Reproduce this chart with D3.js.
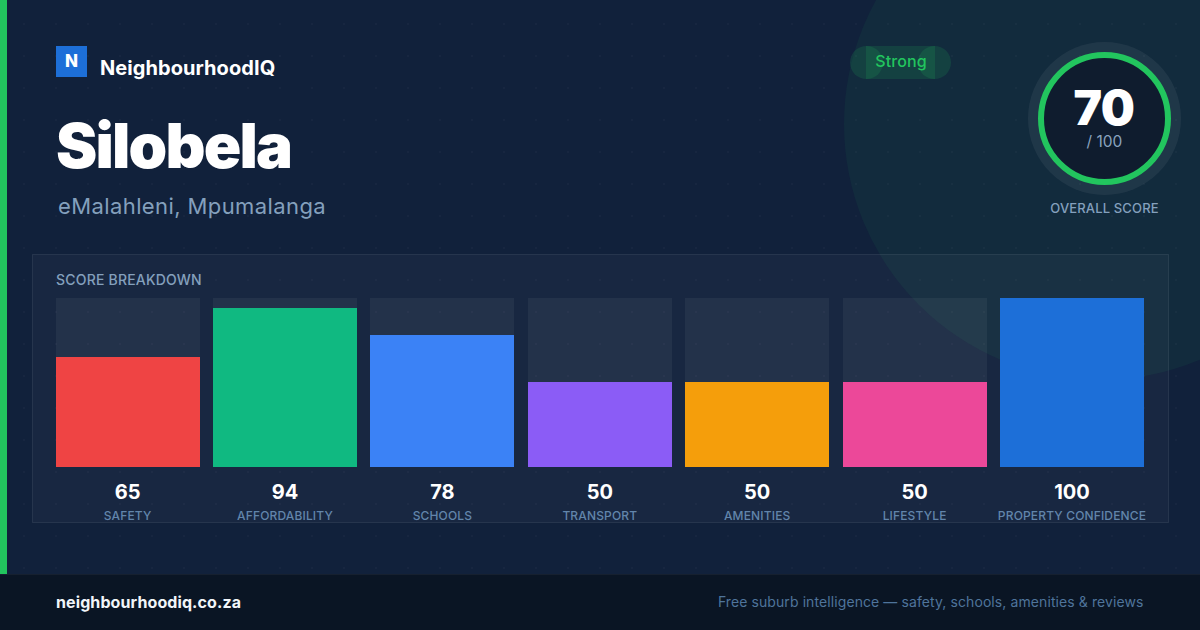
<!DOCTYPE html>
<html>
<head>
<meta charset="utf-8">
<script src="https://cdn.jsdelivr.net/npm/d3@7"></script>
<style>
  html, body { margin: 0; padding: 0; background: #0f2038; }
  svg { display: block; }
  text { font-family: Inter, "Noto Sans", sans-serif; }
</style>
</head>
<body>
<svg id="card"></svg>
<script>
const categories = ['SAFETY', 'AFFORDABILITY', 'SCHOOLS', 'TRANSPORT', 'AMENITIES', 'LIFESTYLE', 'PROPERTY CONFIDENCE'];
const scores = [65, 94, 78, 50, 50, 50, 100];
const barColors = ['#ef4444', '#10b981', '#3b82f6', '#8b5cf6', '#f59e0b', '#ec4899', '#1d6fd8'];
const overallScore = 70;
const scoreMax = 100;

const width = 1200, height = 630;
const svg = d3.select('#card').attr('width', width).attr('height', height);

// Background and dot pattern
const defs = svg.append('defs');
const pattern = defs.append('pattern')
    .attr('id', 'dots')
    .attr('width', 32).attr('height', 32)
    .attr('patternUnits', 'userSpaceOnUse');
pattern.append('circle')
    .attr('cx', 24).attr('cy', 24).attr('r', 1)
    .attr('fill', '#ffffff').attr('fill-opacity', 0.03);

svg.append('rect').attr('width', width).attr('height', height).attr('fill', '#11213b');

// Big green glow circle in the top right
svg.append('circle')
    .attr('cx', 1100).attr('cy', 124).attr('r', 256)
    .attr('fill', '#22c55e').attr('fill-opacity', 0.06);

svg.append('rect').attr('width', width).attr('height', height).attr('fill', 'url(#dots)');

// Left accent stripe
svg.append('rect').attr('width', 7).attr('height', 574).attr('fill', '#22c55e');

// Brand
svg.append('rect')
    .attr('x', 56).attr('y', 46).attr('width', 31).attr('height', 31)
    .attr('fill', '#1d6fd8');
svg.append('text')
    .attr('x', 71.5).attr('y', 67)
    .attr('text-anchor', 'middle')
    .attr('font-size', 17).attr('font-weight', 800).attr('fill', '#fff')
    .text('N');
svg.append('text')
    .attr('x', 100).attr('y', 75)
    .attr('font-size', 20).attr('font-weight', 700).attr('letter-spacing', 0.07).attr('fill', '#fff')
    .text('NeighbourhoodIQ');

// Suburb title
svg.append('text')
    .attr('x', 56).attr('y', 168)
    .attr('font-size', 62).attr('font-weight', 900)
    .attr('letter-spacing', -1.8).attr('fill', '#fff')
    .text('Silobela');
svg.append('text')
    .attr('x', 58).attr('y', 214)
    .attr('font-size', 22).attr('letter-spacing', 0.4).attr('fill', '#84a0bd')
    .text('eMalahleni, Mpumalanga');

// Strong badge: pill with overlapping end caps
const badge = svg.append('g').attr('fill', '#22c55e').attr('fill-opacity', 0.15);
badge.append('rect').attr('x', 866).attr('y', 46).attr('width', 69).attr('height', 33);
badge.append('circle').attr('cx', 866.5).attr('cy', 62.5).attr('r', 16.5);
badge.append('circle').attr('cx', 934.5).attr('cy', 62.5).attr('r', 16.5);
svg.append('text')
    .attr('x', 901).attr('y', 67)
    .attr('text-anchor', 'middle')
    .attr('font-size', 16).attr('font-weight', 500).attr('letter-spacing', 0.1).attr('fill', '#22c55e')
    .text('Strong');

// Overall score ring
svg.append('circle')
    .attr('cx', 1104.5).attr('cy', 118.5).attr('r', 76.5)
    .attr('fill', '#ffffff').attr('fill-opacity', 0.06);
svg.append('circle')
    .attr('cx', 1104.5).attr('cy', 118.5).attr('r', 63.5)
    .attr('fill', '#0f1c2e')
    .attr('stroke', '#22c55e').attr('stroke-width', 6);
svg.append('text')
    .attr('x', 1104).attr('y', 125)
    .attr('text-anchor', 'middle')
    .attr('font-size', 48).attr('font-weight', 900).attr('letter-spacing', -0.5).attr('fill', '#fff')
    .text(overallScore);
svg.append('text')
    .attr('x', 1104.5).attr('y', 147)
    .attr('text-anchor', 'middle')
    .attr('font-size', 15.5).attr('fill', '#8aa3bf')
    .text('/ ' + scoreMax);
svg.append('text')
    .attr('x', 1104.5).attr('y', 213)
    .attr('text-anchor', 'middle')
    .attr('font-size', 13).attr('font-weight', 500).attr('letter-spacing', 0.15)
    .attr('fill', '#84a0bd')
    .text('OVERALL SCORE');

// Score breakdown panel
svg.append('rect')
    .attr('x', 32.5).attr('y', 254.5).attr('width', 1136).attr('height', 268)
    .attr('fill', '#ffffff').attr('fill-opacity', 0.03)
    .attr('stroke', '#ffffff').attr('stroke-opacity', 0.08);
svg.append('text')
    .attr('x', 56).attr('y', 285)
    .attr('font-size', 14).attr('font-weight', 500).attr('letter-spacing', 0.2).attr('fill', '#84a0bd')
    .text('SCORE BREAKDOWN');

const xScale = d3.scaleBand()
    .domain(categories)
    .range([55.6, 1144])
    .paddingInner(0.0851);

const yScale = d3.scaleLinear()
    .domain([0, scoreMax])
    .rangeRound([467, 297.9]);

const barData = categories.map((c, i) => ({category: c, score: scores[i], color: barColors[i]}));

// Bar tracks
svg.selectAll('.track')
    .data(barData)
    .join('rect')
    .attr('class', 'track')
    .attr('x', d => Math.round(xScale(d.category)))
    .attr('y', yScale(scoreMax))
    .attr('width', Math.round(xScale.bandwidth()))
    .attr('height', yScale(0) - yScale(scoreMax))
    .attr('fill', '#ffffff').attr('fill-opacity', 0.05);

// Bars
svg.selectAll('.bar')
    .data(barData)
    .join('rect')
    .attr('class', 'bar')
    .attr('x', d => Math.round(xScale(d.category)))
    .attr('y', d => yScale(d.score))
    .attr('width', Math.round(xScale.bandwidth()))
    .attr('height', d => yScale(0) - yScale(d.score))
    .attr('fill', d => d.color);

// Score values
svg.selectAll('.value')
    .data(barData)
    .join('text')
    .attr('class', 'value')
    .attr('x', d => xScale(d.category) + xScale.bandwidth() / 2)
    .attr('y', 499)
    .attr('text-anchor', 'middle')
    .attr('font-size', 20).attr('font-weight', 700).attr('fill', '#fff')
    .text(d => d.score);

// Category labels
svg.selectAll('.cat-label')
    .data(barData)
    .join('text')
    .attr('class', 'cat-label')
    .attr('x', d => xScale(d.category) + xScale.bandwidth() / 2)
    .attr('y', 520)
    .attr('text-anchor', 'middle')
    .attr('font-size', 12).attr('font-weight', 500).attr('letter-spacing', 0.15).attr('fill', '#6285ab')
    .text(d => d.category);

// Footer
svg.append('rect')
    .attr('y', 574).attr('width', width).attr('height', 56)
    .attr('fill', '#0a1524');
svg.append('line')
    .attr('x1', 0).attr('x2', width).attr('y1', 574.5).attr('y2', 574.5)
    .attr('stroke', '#ffffff').attr('stroke-opacity', 0.05);
svg.append('text')
    .attr('x', 56).attr('y', 608)
    .attr('font-size', 16).attr('font-weight', 700).attr('letter-spacing', 0.1).attr('fill', '#f1f5f9')
    .text('neighbourhoodiq.co.za');
svg.append('text')
    .attr('x', 1143.5).attr('y', 607)
    .attr('text-anchor', 'end')
    .attr('font-size', 14).attr('letter-spacing', 0.09).attr('fill', '#4f749b')
    .text('Free suburb intelligence — safety, schools, amenities & reviews');
</script>
</body>
</html>
